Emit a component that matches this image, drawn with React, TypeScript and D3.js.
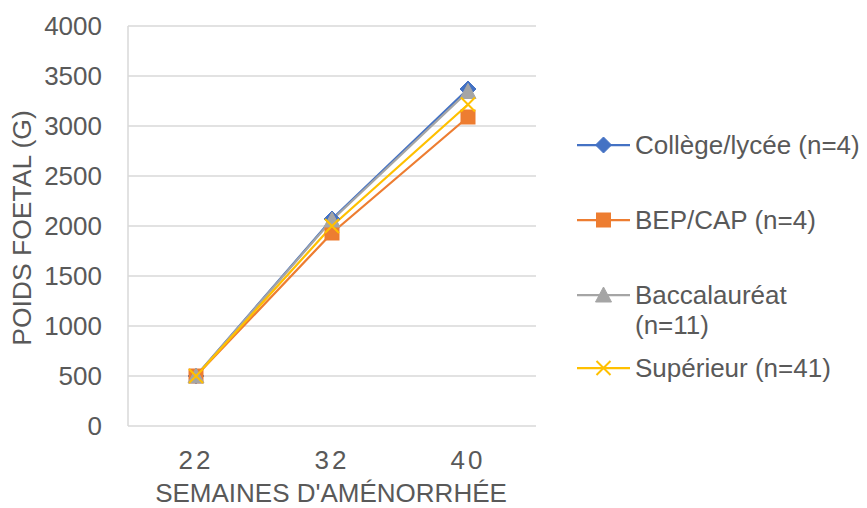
import React from "react";
import * as d3 from "d3";

const categories = ["22", "32", "40"];
const seriesNames = ["Collège/lycée (n=4)", "BEP/CAP (n=4)", "Baccalauréat (n=11)", "Supérieur (n=41)"];
const college = [500, 2070, 3370];
const bepcap = [500, 1930, 3090];
const bac = [500, 2060, 3345];
const superieur = [500, 2000, 3215];
const yTicks = [0, 500, 1000, 1500, 2000, 2500, 3000, 3500, 4000];

const colors = ["#4472C4", "#ED7D31", "#A5A5A5", "#FFC000"];
const markers = ["diamond", "square", "triangle", "x"];
const allSeries = [college, bepcap, bac, superieur];

const W = 867, H = 508;
const left = 128, right = 536, top = 26, bottom = 426;

function Marker({ type, x, y, color }: { type: string; x: number; y: number; color: string }) {
  const s = 7;
  if (type === "diamond") {
    return <path d={`M${x},${y - s - 1}L${x + s + 1},${y}L${x},${y + s + 1}L${x - s - 1},${y}Z`} fill={color} stroke={color} strokeWidth={1} />;
  }
  if (type === "square") {
    return <rect x={x - s} y={y - s} width={2 * s} height={2 * s} fill={color} stroke={color} strokeWidth={1} />;
  }
  if (type === "triangle") {
    return <path d={`M${x},${y - s - 1}L${x + s + 1},${y + s}L${x - s - 1},${y + s}Z`} fill={color} stroke={color} strokeWidth={1} />;
  }
  return (
    <path d={`M${x - s},${y - s}L${x + s},${y + s}M${x + s},${y - s}L${x - s},${y + s}`} stroke={color} strokeWidth={2} fill="none" />
  );
}

export default function App() {
  const x = d3.scaleBand<string>().domain(categories).range([left, right]);
  const y = d3.scaleLinear().domain([0, 4000]).range([bottom, top]);
  const cx = (c: string) => (x(c) as number) + x.bandwidth() / 2;
  const line = d3
    .line<number>()
    .x((_, i) => cx(categories[i]))
    .y((d) => y(d));

  const legendY = [145, 220, 295, 368];
  const font = "Arial, 'Liberation Sans', sans-serif";
  const textColor = "#595959";
  const fs = 26;

  return (
    <svg width={W} height={H} style={{ position: "absolute", left: 0, top: 0, background: "#fff" }} fontFamily={font}>
      {yTicks.map((t) => (
        <line key={t} x1={left} x2={right} y1={y(t)} y2={y(t)} stroke="#D9D9D9" strokeWidth={1.5} />
      ))}
      <line x1={left} x2={left} y1={top} y2={bottom} stroke="#D9D9D9" strokeWidth={1.5} />
      {yTicks.map((t) => (
        <text key={t} x={102} y={y(t)} dy="0.35em" textAnchor="end" fontSize={fs} fill={textColor}>
          {t}
        </text>
      ))}
      {categories.map((c) => (
        <text key={c} x={cx(c)} y={469} textAnchor="middle" fontSize={fs} fill={textColor} letterSpacing={3}>
          {c}
        </text>
      ))}
      <text x={331} y={502} textAnchor="middle" fontSize={26} fill={textColor}>
        SEMAINES D'AMÉNORRHÉE
      </text>
      <text transform={`translate(31,228) rotate(-90)`} textAnchor="middle" fontSize={26.5} fill={textColor}>
        POIDS FOETAL (G)
      </text>
      {allSeries.map((s, i) => (
        <path key={i} d={line(s) || ""} fill="none" stroke={colors[i]} strokeWidth={2.25} />
      ))}
      {allSeries.map((s, i) =>
        s.map((v, j) => <Marker key={`${i}-${j}`} type={markers[i]} x={cx(categories[j])} y={y(v)} color={colors[i]} />)
      )}
      {seriesNames.map((n, i) => {
        const ly = legendY[i];
        const isBac = i === 2;
        return (
          <g key={n}>
            <line x1={577} x2={630} y1={ly} y2={ly} stroke={colors[i]} strokeWidth={2.25} />
            <Marker type={markers[i]} x={603.5} y={ly} color={colors[i]} />
            {isBac ? (
              <text x={635} y={ly} dy="0.35em" fontSize={fs} fill={textColor}>
                <tspan x={635}>Baccalauréat</tspan>
                <tspan x={635} dy={30}>(n=11)</tspan>
              </text>
            ) : (
              <text x={635} y={ly} dy="0.35em" fontSize={fs} fill={textColor}>
                {n}
              </text>
            )}
          </g>
        );
      })}
    </svg>
  );
}
